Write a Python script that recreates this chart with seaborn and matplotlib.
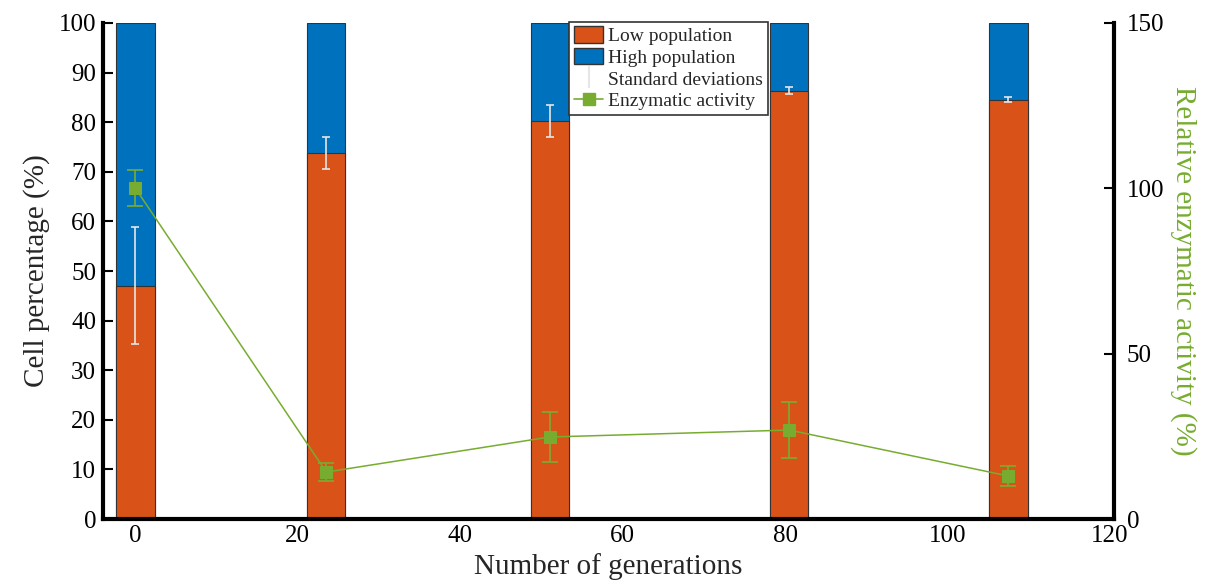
import matplotlib
matplotlib.use("Agg")
import matplotlib.pyplot as plt
import seaborn as sns
import numpy as np
import pandas as pd
from matplotlib.patches import Patch
from matplotlib.lines import Line2D

# ---- data ----
generations = [0, 23.5, 51, 80.5, 107.5]
low_pop = [47.0, 73.8, 80.2, 86.3, 84.5]
high_pop = [53.0, 26.2, 19.8, 13.7, 15.5]
low_sd = [11.8, 3.2, 3.2, 0.7, 0.5]
enzyme = [100.0, 14.2, 24.8, 26.9, 13.0]
enzyme_sd = [5.4, 2.7, 7.5, 8.5, 3.0]
x_ticks = [0, 20, 40, 60, 80, 100, 120]
y_ticks = [0, 10, 20, 30, 40, 50, 60, 70, 80, 90, 100]
y2_ticks = [0, 50, 100, 150]

sns.set_theme(style="white")
plt.rcParams["font.family"] = ["Liberation Serif", "DejaVu Serif"]

ORANGE = "#D95319"
BLUE = "#0072BD"
GREEN = "#77AC30"
SDCOL = "#e6e6e6"

fig = plt.figure(figsize=(12.07, 5.85), dpi=100)
ax = fig.add_axes([0.0853, 0.1128, 0.8377, 0.8479])

df = pd.DataFrame({"gen": generations, "low": low_pop, "high": high_pop})
df["total"] = df["low"] + df["high"]

sns.barplot(data=df, x="gen", y="total", native_scale=True, width=0.2,
            color=BLUE, saturation=1, edgecolor="#333333", linewidth=0.8,
            errorbar=None, ax=ax)
sns.barplot(data=df, x="gen", y="low", native_scale=True, width=0.2,
            color=ORANGE, saturation=1, edgecolor="#333333", linewidth=0.8,
            errorbar=None, ax=ax)
ax.errorbar(generations, low_pop, yerr=low_sd, fmt="none", ecolor=SDCOL,
            elinewidth=1.2, capsize=3, capthick=1.2, zorder=5)

XLIM = (-4, 120.5)
ax.set_xlim(*XLIM)
ax.set_ylim(0, 100)
ax.set_xticks(x_ticks)
ax.set_yticks(y_ticks)
ax.tick_params(axis="both", direction="in", length=7, width=1.5,
               labelsize=18, colors="black", pad=5)
ax.tick_params(axis="x", pad=4)
ax.set_xlabel("Number of generations", fontsize=21, labelpad=5)
ax.set_ylabel("Cell percentage (%)", fontsize=21, labelpad=6)
for s in ["left", "bottom"]:
    ax.spines[s].set_linewidth(3)
    ax.spines[s].set_color("black")
ax.spines["top"].set_visible(False)
ax.spines["right"].set_visible(False)

ax2 = ax.twinx()
ax2.set_ylim(0, 150)
ax2.set_yticks(y2_ticks)
edf = pd.DataFrame({"gen": generations, "enz": enzyme})
sns.lineplot(data=edf, x="gen", y="enz", color=GREEN, marker="s",
             markersize=9, markeredgecolor=GREEN, linewidth=1.1, ax=ax2)
ax2.errorbar(generations, enzyme, yerr=enzyme_sd, fmt="none", ecolor=GREEN,
             elinewidth=1.2, capsize=6, capthick=1.2, zorder=6)
ax2.set_xlim(*XLIM)
ax2.set_xlabel("")
ax2.set_ylabel("Relative enzymatic activity (%)", fontsize=21, color=GREEN,
               rotation=270, labelpad=24)
ax2.tick_params(axis="y", direction="in", length=7, width=1.5,
                labelsize=18, colors="black", pad=9)
ax2.spines["right"].set_linewidth(3)
ax2.spines["right"].set_color("black")
for s in ["left", "bottom", "top"]:
    ax2.spines[s].set_visible(False)

handles = [
    Patch(facecolor=ORANGE, edgecolor="#333333", label="Low population"),
    Patch(facecolor=BLUE, edgecolor="#333333", label="High population"),
    Line2D([], [], color=SDCOL, marker="|", markersize=16, linestyle="none",
           markeredgewidth=1.5, label="Standard deviations"),
    Line2D([], [], color=GREEN, marker="s", markersize=8, linewidth=1.2,
           label="Enzymatic activity"),
]
leg = ax2.legend(handles=handles, loc="upper left", bbox_to_anchor=(0.461, 1.003),
                 fontsize=14, frameon=True, fancybox=False, framealpha=1,
                 edgecolor="#333333", borderpad=0.25, labelspacing=0.15,
                 handlelength=1.5, handleheight=0.9, handletextpad=0.25,
                 borderaxespad=0)
leg.get_frame().set_linewidth(1.2)

fig.savefig("out.png", dpi=100)
